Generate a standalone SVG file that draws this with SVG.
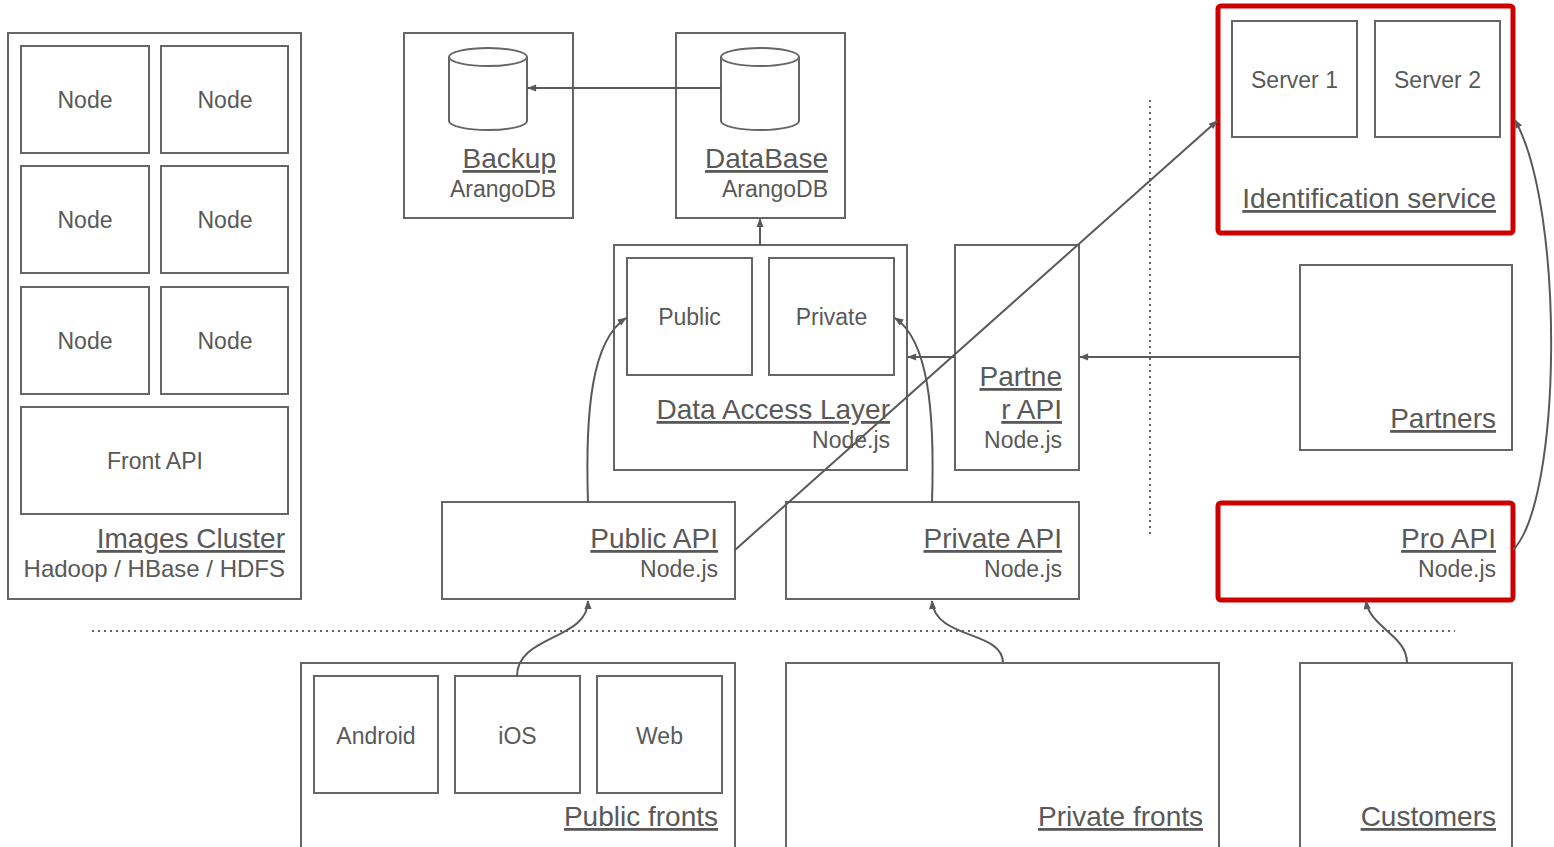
<svg xmlns="http://www.w3.org/2000/svg" width="1554" height="847" viewBox="0 0 1554 847">
<style>
.b{fill:#fff;stroke:#666;stroke-width:2}
.r{fill:#fff;stroke:#cc0000;stroke-width:5}
.t{font-family:"Liberation Sans",Arial,sans-serif;font-size:23px;fill:#595959}
.c{text-anchor:middle}
.e{text-anchor:end}
.u{font-family:"Liberation Sans",Arial,sans-serif;font-size:28px;fill:#595959;text-anchor:end;text-decoration:underline}
.l{fill:none;stroke:#595959;stroke-width:2}
.d{fill:none;stroke:#666;stroke-width:2;stroke-dasharray:2,4}
</style>
<defs>
<marker id="a" viewBox="0 0 10 10" refX="9" refY="5" markerWidth="10" markerHeight="9" orient="auto" markerUnits="userSpaceOnUse">
<path d="M0,1 L10,5 L0,9 z" fill="#595959"/>
</marker>
</defs>
<rect width="1554" height="847" fill="#fff"/>
<g id="dividers">
<line class="d" x1="1150" y1="100" x2="1150" y2="537"/>
<line class="d" x1="92" y1="631" x2="1455" y2="631"/>
</g>
<g id="images-cluster">
<rect class="b" x="8" y="33" width="293" height="566"/>
<rect class="b" x="21" y="46" width="128" height="107"/><text class="t c" x="85" y="108">Node</text>
<rect class="b" x="161" y="46" width="127" height="107"/><text class="t c" x="225" y="108">Node</text>
<rect class="b" x="21" y="166" width="128" height="107"/><text class="t c" x="85" y="228">Node</text>
<rect class="b" x="161" y="166" width="127" height="107"/><text class="t c" x="225" y="228">Node</text>
<rect class="b" x="21" y="287" width="128" height="107"/><text class="t c" x="85" y="349">Node</text>
<rect class="b" x="161" y="287" width="127" height="107"/><text class="t c" x="225" y="349">Node</text>
<rect class="b" x="21" y="407" width="267" height="107"/><text class="t c" x="155" y="469">Front API</text>
<text class="u" x="285" y="548">Images Cluster</text>
<text class="t e" x="285" y="577" style="font-size:24px">Hadoop / HBase / HDFS</text>
</g>
<g id="backup">
<rect class="b" x="404" y="33" width="169" height="185"/>
<path class="b" d="M449,57 L449,121 A39,9 0 0 0 527,121 L527,57 A39,9 0 0 0 449,57 A39,9 0 0 0 527,57"/>
<text class="u" x="556" y="168">Backup</text>
<text class="t e" x="556" y="197">ArangoDB</text>
</g>
<g id="database">
<rect class="b" x="676" y="33" width="169" height="185"/>
<path class="b" d="M721,57 L721,121 A39,9 0 0 0 799,121 L799,57 A39,9 0 0 0 721,57 A39,9 0 0 0 799,57"/>
<text class="u" x="828" y="168">DataBase</text>
<text class="t e" x="828" y="197">ArangoDB</text>
</g>
<g id="data-access-layer">
<rect class="b" x="614" y="245" width="293" height="225"/>
<rect class="b" x="627" y="258" width="125" height="117"/><text class="t c" x="689.5" y="325">Public</text>
<rect class="b" x="769" y="258" width="125" height="117"/><text class="t c" x="831.5" y="325">Private</text>
<text class="u" x="890" y="419">Data Access Layer</text>
<text class="t e" x="890" y="448">Node.js</text>
</g>
<g id="partner-api">
<rect class="b" x="955" y="245" width="124" height="225"/>
<text class="u" x="1062" y="386">Partne</text>
<text class="u" x="1062" y="419">r API</text>
<text class="t e" x="1062" y="448">Node.js</text>
</g>
<g id="identification-service">
<rect class="r" x="1218" y="6" width="295" height="227" rx="3"/>
<rect class="b" x="1232" y="21" width="125" height="116"/><text class="t c" x="1294.5" y="88">Server 1</text>
<rect class="b" x="1375" y="21" width="125" height="116"/><text class="t c" x="1437.5" y="88">Server 2</text>
<text class="u" x="1496" y="208">Identification service</text>
</g>
<g id="partners">
<rect class="b" x="1300" y="265" width="212" height="185"/>
<text class="u" x="1496" y="428">Partners</text>
</g>
<g id="public-api">
<rect class="b" x="442" y="502" width="293" height="97"/>
<text class="u" x="718" y="548">Public API</text>
<text class="t e" x="718" y="577">Node.js</text>
</g>
<g id="private-api">
<rect class="b" x="786" y="502" width="293" height="97"/>
<text class="u" x="1062" y="548">Private API</text>
<text class="t e" x="1062" y="577">Node.js</text>
</g>
<g id="pro-api">
<rect class="r" x="1218" y="503" width="295" height="97" rx="3"/>
<text class="u" x="1496" y="548">Pro API</text>
<text class="t e" x="1496" y="577">Node.js</text>
</g>
<g id="public-fronts">
<rect class="b" x="301" y="663" width="434" height="200"/>
<rect class="b" x="314" y="676" width="124" height="117"/><text class="t c" x="376" y="744">Android</text>
<rect class="b" x="455" y="676" width="125" height="117"/><text class="t c" x="517.5" y="744">iOS</text>
<rect class="b" x="597" y="676" width="125" height="117"/><text class="t c" x="659.5" y="744">Web</text>
<text class="u" x="718" y="826">Public fronts</text>
</g>
<g id="private-fronts">
<rect class="b" x="786" y="663" width="433" height="200"/>
<text class="u" x="1203" y="826">Private fronts</text>
</g>
<g id="customers">
<rect class="b" x="1300" y="663" width="212" height="200"/>
<text class="u" x="1496" y="826">Customers</text>
</g>
<g id="connectors">
<line class="l" x1="721" y1="88" x2="528" y2="88" marker-end="url(#a)"/>
<line class="l" x1="760" y1="245" x2="760" y2="219" marker-end="url(#a)"/>
<line class="l" x1="1300" y1="357" x2="1080" y2="357" marker-end="url(#a)"/>
<line class="l" x1="955" y1="357" x2="908" y2="357" marker-end="url(#a)"/>
<line class="l" x1="735" y1="550" x2="1217" y2="121" marker-end="url(#a)"/>
<path class="l" d="M588,502 C585,410 592,340 626,318" marker-end="url(#a)"/>
<path class="l" d="M932,502 C935,410 928,340 895,318" marker-end="url(#a)"/>
<path class="l" d="M1513,550 C1562,500 1565,210 1515,120" marker-end="url(#a)"/>
<path class="l" d="M517,676 C517,635 588,640 588,601" marker-end="url(#a)"/>
<path class="l" d="M1003,663 C1003,630 935,640 932,601" marker-end="url(#a)"/>
<path class="l" d="M1407,663 C1407,635 1370,628 1366,601" marker-end="url(#a)"/>
</g>
</svg>
